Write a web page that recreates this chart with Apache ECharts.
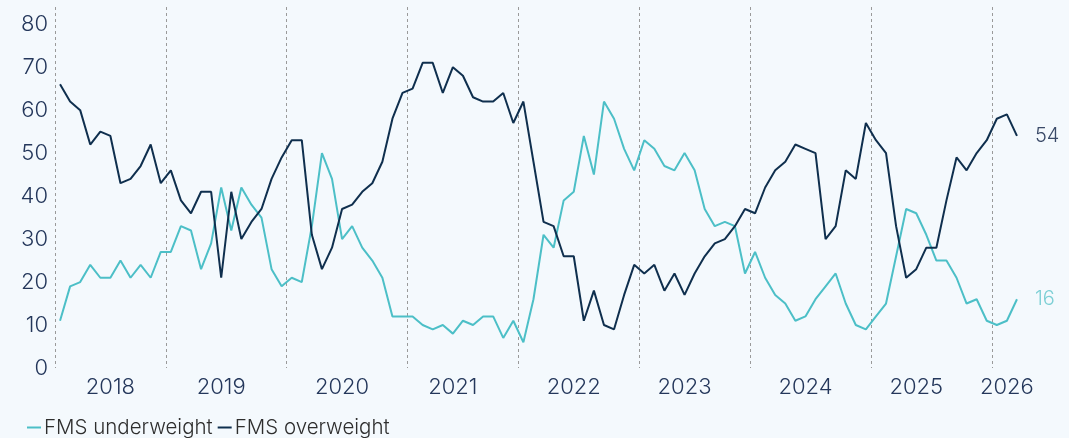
<!DOCTYPE html>
<html>
<head>
<meta charset="utf-8">
<script src="https://cdn.jsdelivr.net/npm/echarts@6/dist/echarts.min.js"></script>
<style>
html,body{margin:0;padding:0;background:#f4f9fd;}
#c{width:1069px;height:438px;}
</style>
</head>
<body>
<div id="c"></div>
<script>
// Number of survey points per calendar year
const yearCounts = [['2018',11],['2019',12],['2020',12],['2021',11],['2022',12],['2023',11],['2024',12],['2025',12],['2026',3]];
// Which point of the series carries each year's tick label
const yearLabelIndex = {'2018':5,'2019':16,'2020':28,'2021':39,'2022':51,'2023':62,'2024':74,'2025':85,'2026':94};
const yTicks = [0,10,20,30,40,50,60,70,80];

const underweight = [11,19,20,24,21,21,25,21,24,21,27,
  27,33,32,23,29,42,32,42,38,35,23,19,
  21,20,33,50,44,30,33,28,25,21,12,12,
  12,10,9,10,8,11,10,12,12,7,11,
  6,16,31,28,39,41,54,45,62,58,51,46,
  53,51,47,46,50,46,37,33,34,33,22,
  27,21,17,15,11,12,16,19,22,15,10,9,
  12,15,26,37,36,31,25,25,21,15,16,11,
  10,11,16];
const overweight = [66,62,60,52,55,54,43,44,47,52,43,
  46,39,36,41,41,21,41,30,34,37,44,49,
  53,53,31,23,28,37,38,41,43,48,58,64,
  65,71,71,64,70,68,63,62,62,64,57,
  62,48,34,33,26,26,11,18,10,9,17,24,
  22,24,18,22,17,22,26,29,30,33,37,
  36,42,46,48,52,51,50,30,33,46,44,57,
  53,50,33,21,23,28,28,39,49,46,50,53,
  58,59,54];

const categories = [];
const yearStarts = new Set();
yearCounts.forEach(([y, n]) => {
  yearStarts.add(categories.length);
  for (let k = 0; k < n; k++) categories.push(y);
});
const labelIdx = new Set(Object.values(yearLabelIndex));

const FONT = 'Inter';
const TEAL = '#4cbfc7';
const NAVY = '#0f2f4e';
const AXIS_TXT = '#24375b';

const chart = echarts.init(document.getElementById('c'), null, {renderer: 'canvas'});
chart.setOption({
  backgroundColor: '#f4f9fd',
  animation: false,
  grid: {left: 55, right: 47, top: 7, bottom: 70, containLabel: false},
  legend: {
    left: 22, top: 412,
    icon: 'rect', itemWidth: 14, itemHeight: 2, itemGap: 5,
    textStyle: {fontFamily: FONT, fontWeight: 300, fontSize: 20.5, color: '#2e2e2e', padding: [0,0,0,-2]},
    data: ['FMS underweight', 'FMS overweight']
  },
  xAxis: {
    type: 'category',
    data: categories,
    boundaryGap: true,
    axisLine: {show: false},
    axisTick: {show: false},
    axisLabel: {
      interval: (i) => labelIdx.has(i),
      fontFamily: FONT, fontWeight: 300, fontSize: 22, color: AXIS_TXT, margin: 8
    },
    splitLine: {
      show: true,
      interval: (i) => yearStarts.has(i),
      showMaxLine: false,
      lineStyle: {color: '#9a9a9a', type: [3, 3], width: 1}
    }
  },
  yAxis: {
    type: 'value',
    min: 0, max: 84, interval: 10,
    axisLine: {show: false},
    axisTick: {show: false},
    splitLine: {show: false},
    axisLabel: {
      showMaxLabel: false,
      formatter: (v) => yTicks.includes(v) ? String(v) : '',
      fontFamily: FONT, fontWeight: 300, fontSize: 22, color: AXIS_TXT, margin: 7
    }
  },
  series: [
    {
      name: 'FMS underweight', type: 'line', data: underweight,
      showSymbol: false, symbol: 'none',
      lineStyle: {color: TEAL, width: 2},
      itemStyle: {color: TEAL},
      endLabel: {show: true, formatter: (p) => String(p.value), distance: 18,
        fontFamily: FONT, fontWeight: 300, fontSize: 20, color: '#7ccfd5'}
    },
    {
      name: 'FMS overweight', type: 'line', data: overweight,
      showSymbol: false, symbol: 'none',
      lineStyle: {color: NAVY, width: 2},
      itemStyle: {color: NAVY},
      endLabel: {show: true, formatter: (p) => String(p.value), distance: 18,
        fontFamily: FONT, fontWeight: 300, fontSize: 20, color: '#3a4a68'}
    }
  ]
});
</script>
</body>
</html>
